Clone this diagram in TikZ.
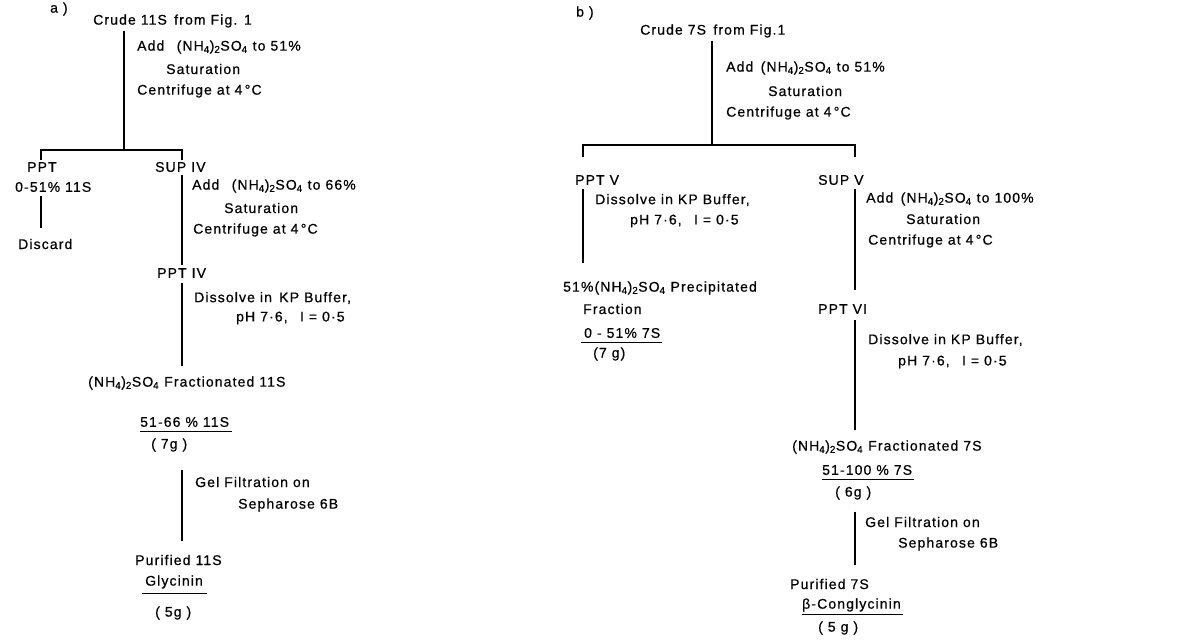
\documentclass[tikz,border=0pt]{standalone}
\usepackage{fontspec}
\setmainfont{Liberation Sans}[LetterSpace=8, FakeBold=0.6]
\usetikzlibrary{positioning}

\tikzset{
  txt/.style={anchor=west, inner sep=0pt, font=\fontsize{14}{16}\selectfont},
  step line/.style={line width=1.2pt},
  uline/.style={line width=1.1pt}
}
\newcommand{\amsulf}{(NH\textsubscript{4})\textsubscript{2}SO\textsubscript{4}}

\begin{document}
\begin{tikzpicture}[x=1pt, y=-1pt]
  \useasboundingbox (0,0) rectangle (1178,640);

  % ---- a) 11S ----
  \node[txt] (tagA) at (50,9) {a )};
  \node[txt] (crudeA) at (93,21) {Crude 11S\, from Fig. 1};
  \coordinate (splitA) at (124,150);
  \coordinate (tickLA) at (41,160);
  \coordinate (tickRA) at (182,160);
  \coordinate (colA) at (182,0);
  \node[txt] (addA) at (137,47) {Add \, \amsulf\ to 51\%};
  \node[txt] (satA) at (166,69) {Saturation};
  \node[txt] (cenA) at (137,91) {Centrifuge at 4\,°C};
  \draw[step line] ([yshift=-3pt]crudeA.south -| splitA) -- (splitA);
  \draw[step line] (tickLA) |- (splitA) -| (tickRA);
  \node[txt] (pptA) at (27,167) {PPT};
  \node[txt] (supA) at (155,167) {SUP IV};
  \node[txt] (fracA) at (15,187) {0-51\% 11S};
  \node[txt] (discA) at (18,244) {Discard};
  \draw[step line] ([yshift=-4pt]fracA.south -| tickLA) -- ([yshift=11pt]discA.north -| tickLA);
  \node[txt] (add2A) at (192,186) {Add \, \amsulf\ to 66\%};
  \node[txt] (sat2A) at (224,208) {Saturation};
  \node[txt] (cen2A) at (193,230) {Centrifuge at 4\,°C};
  \node[txt] (ppt4A) at (157,273) {PPT IV};
  \draw[step line] ([yshift=-3pt]supA.south -| colA) -- ([yshift=3pt]ppt4A.north -| colA);
  \node[txt] (dissA) at (194,298) {Dissolve in \,KP Buffer,};
  \node[txt] (phA) at (236,318) {pH 7·6, \, I = 0·5};
  \node[txt] (amsA) at (88,383) {\amsulf\ Fractionated 11S};
  \draw[step line] ([yshift=-5pt]ppt4A.south -| colA) -- ([yshift=10pt]amsA.north -| colA);
  \node[txt] (pctA) at (140,422) {51-66 \% 11S};
  \draw[uline] ([yshift=-5pt]pctA.base west) -- ([yshift=-5pt, xshift=3pt]pctA.base east);
  \node[txt] (gA) at (151,445) {( 7g )};
  \node[txt] (gelA) at (195,482) {Gel Filtration on};
  \node[txt] (sephA) at (238,505) {Sepharose 6B};
  \node[txt] (purA) at (135,560) {Purified 11S};
  \draw[step line] ([yshift=-18pt]gA.south -| colA) -- ([yshift=14pt]purA.north -| colA);
  \node[txt] (glyA) at (145,582) {Glycinin};
  \draw[uline] ([yshift=-8pt, xshift=-3pt]glyA.base west) -- ([yshift=-8pt, xshift=4pt]glyA.base east);
  \node[txt] (g5A) at (155,613) {( 5g )};

  % ---- b) 7S ----
  \node[txt] (tagB) at (576,13) {b )};
  \node[txt] (crudeB) at (640,31) {Crude 7S\, from Fig.1};
  \coordinate (splitB) at (712,145);
  \coordinate (tickLB) at (583,157);
  \coordinate (tickRB) at (855,157);
  \coordinate (leftB) at (583,0);
  \coordinate (colB) at (855,0);
  \node[txt] (addB) at (726,68) {Add \,\amsulf\ to 51\%};
  \node[txt] (satB) at (768,91) {Saturation};
  \node[txt] (cenB) at (726,113) {Centrifuge at 4\,°C};
  \draw[step line] ([yshift=-3pt]crudeB.south -| splitB) -- (splitB);
  \draw[step line] (tickLB) |- (splitB) -| (tickRB);
  \node[txt] (pptB) at (575,180) {PPT V};
  \node[txt] (supB) at (818,180) {SUP V};
  \node[txt] (dissB) at (595,200) {Dissolve in KP Buffer,};
  \node[txt] (phB) at (630,221) {pH 7·6, \, I = 0·5};
  \node[txt] (precB) at (563,288) {51\%\amsulf\ Precipitated};
  \node[txt] (fracB) at (583,309) {Fraction};
  \draw[step line] ([yshift=-4pt]pptB.south -| leftB) -- ([yshift=18pt]precB.north -| leftB);
  \node[txt] (pctB) at (584,333) {0 - 51\% 7S};
  \draw[uline] ([yshift=-5pt, xshift=-3pt]pctB.base west) -- ([yshift=-5pt, xshift=2pt]pctB.base east);
  \node[txt] (gB) at (593,354) {(7 g)};
  \node[txt] (add2B) at (866,199) {Add \,\amsulf\ to 100\%};
  \node[txt] (sat2B) at (906,219) {Saturation};
  \node[txt] (cen2B) at (868,241) {Centrifuge at 4\,°C};
  \node[txt] (ppt6B) at (818,309) {PPT VI};
  \draw[step line] ([yshift=-4pt]supB.south -| colB) -- ([yshift=14pt]ppt6B.north -| colB);
  \node[txt] (dissB2) at (868,340) {Dissolve in KP Buffer,};
  \node[txt] (phB2) at (898,362) {pH 7·6, \, I = 0·5};
  \node[txt] (amsB) at (792,447) {\amsulf\ Fractionated 7S};
  \draw[step line] ([yshift=-6pt]ppt6B.south -| colB) -- ([yshift=10pt]amsB.north -| colB);
  \node[txt] (pctB2) at (822,470) {51-100 \% 7S};
  \draw[uline] ([yshift=-5pt]pctB2.base west) -- ([yshift=-5pt, xshift=2pt]pctB2.base east);
  \node[txt] (gB2) at (835,493) {( 6g )};
  \node[txt] (gelB) at (865,522) {Gel Filtration on};
  \node[txt] (sephB) at (898,544) {Sepharose 6B};
  \node[txt] (purB) at (790,584) {Purified 7S};
  \draw[step line] ([yshift=-12pt]gB2.south -| colB) -- ([yshift=14pt]purB.north -| colB);
  \node[txt] (congB) at (802,605) {β-Conglycinin};
  \draw[uline] ([yshift=-6pt]congB.base west) -- ([yshift=-6pt, xshift=2pt]congB.base east);
  \node[txt] (g5B) at (818,628) {( 5 g )};
\end{tikzpicture}
\end{document}
